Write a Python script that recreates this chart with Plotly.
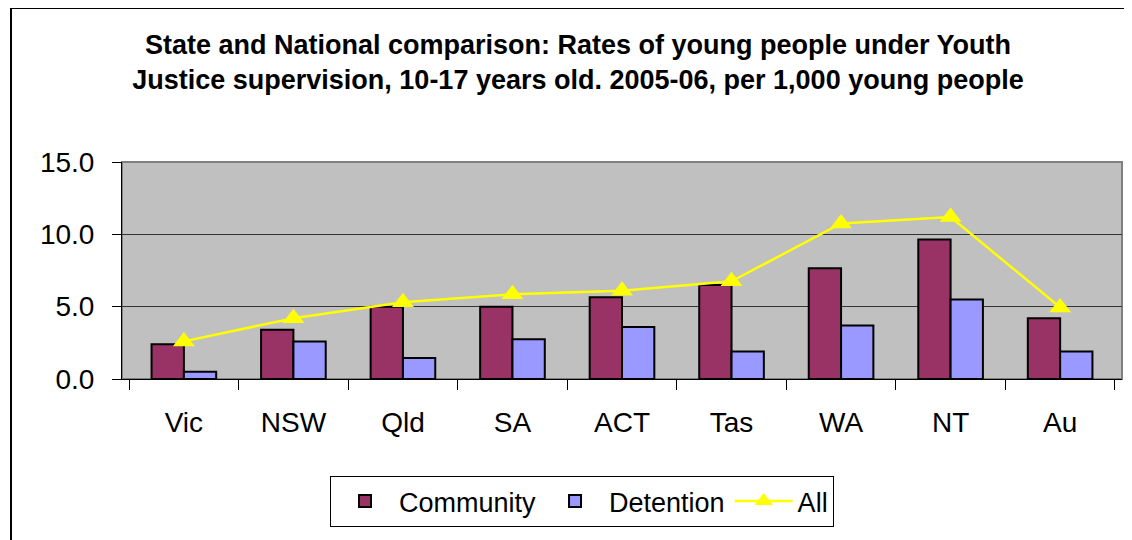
import plotly.graph_objects as go

categories = ["Vic", "NSW", "Qld", "SA", "ACT", "Tas", "WA", "NT", "Au"]
community = [2.4, 3.4, 5.0, 5.0, 5.65, 6.5, 7.65, 9.65, 4.2]
detention = [0.5, 2.6, 1.45, 2.75, 3.6, 1.9, 3.7, 5.5, 1.9]
all_rates = [2.6, 4.2, 5.3, 5.85, 6.1, 6.75, 10.75, 11.2, 4.95]
y_ticks = [0, 5, 10, 15]
y_tick_labels = ["0.0", "5.0", "10.0", "15.0"]

FONT = "Arial, Liberation Sans, sans-serif"

fig = go.Figure()
fig.add_trace(go.Bar(
    x=categories, y=community, name="Community",
    marker=dict(color="#993366", line=dict(color="black", width=2)),
))
fig.add_trace(go.Bar(
    x=categories, y=detention, name="Detention",
    marker=dict(color="#9999FF", line=dict(color="black", width=2)),
))
fig.add_trace(go.Scatter(
    x=categories, y=all_rates, name="All", mode="lines+markers",
    line=dict(color="#FFFF00", width=2.5),
    marker=dict(symbol="triangle-up", size=19, color="#FFFF00"),
))

fig.update_layout(
    width=1132, height=540,
    margin=dict(l=114, r=18, t=154, b=169),
    paper_bgcolor="white",
    plot_bgcolor="#C0C0C0",
    barmode="group",
    bargap=0.41,
    bargroupgap=0,
    font=dict(family=FONT, color="black", size=26),
    title=dict(
        text="State and National comparison: Rates of young people under Youth<br>Justice supervision, 10-17 years old. 2005-06, per 1,000 young people",
        font=dict(family=FONT, size=27, color="black", weight="bold"),
        x=0.5035, xanchor="center", xref="container",
        y=0.915, yanchor="middle", yref="container",
    ),
    showlegend=True,
    legend=dict(
        orientation="h",
        x=0.46, xanchor="center",
        y=-0.447, yanchor="top",
        bordercolor="black", borderwidth=1,
        bgcolor="white",
        font=dict(family=FONT, size=27, color="black"),
        itemwidth=58,
        traceorder="normal",
    ),
    shapes=[
        dict(type="rect", xref="paper", yref="paper",
             x0=-0.111, x1=1.2, y0=-1.1, y1=1.7097,
             line=dict(color="black", width=2), fillcolor="rgba(0,0,0,0)", layer="below"),
        dict(type="rect", xref="paper", yref="paper",
             x0=0, x1=1, y0=0, y1=1,
             line=dict(color="#808080", width=2), fillcolor="rgba(0,0,0,0)", layer="below"),
    ],
)

fig.update_xaxes(
    showline=True, linecolor="black", linewidth=1,
    ticks="outside", tickson="boundaries", ticklen=10, tickcolor="black",
    ticklabelstandoff=18,
    tickfont=dict(family=FONT, size=28, color="black"),
    showgrid=False,
)
fig.update_yaxes(
    range=[0, 15], tickvals=y_ticks, ticktext=y_tick_labels,
    showline=True, linecolor="black", linewidth=1,
    ticks="outside", ticklen=9, tickcolor="black",
    ticklabelstandoff=12,
    tickfont=dict(family=FONT, size=28, color="black"),
    showgrid=True, gridcolor="#333333", gridwidth=1,
    zeroline=False,
)

fig.write_html("out.html")
